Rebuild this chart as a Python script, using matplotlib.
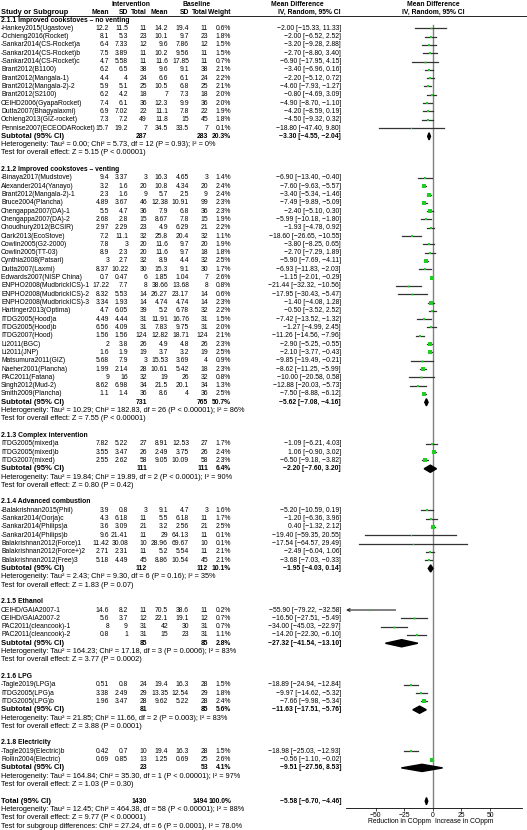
import matplotlib
matplotlib.use('Agg')
import matplotlib.pyplot as plt
from matplotlib.patches import Polygon

plt.rcParams['font.family'] = ['Liberation Sans', 'DejaVu Sans']
FS = 4.9
FS_NOTE = 5.35
MINUS = '\u2212'

# ---- data -------------------------------------------------------------
groups = ['2.1.1 Improved cookstoves \u2013 no venting',
          '2.1.2 Improved cookstoves \u2013 venting',
          '2.1.3 Complex intervention',
          '2.1.4 Advanced combustion',
          '2.1.5 Ethanol',
          '2.1.6 LPG',
          '2.1.8 Electricity']
group_sizes = [13, 27, 3, 7, 4, 3, 2]

studies = [
    '-Hankey2015(Ugastove)', '-Ochieng2016(Rocket)', '-Sankar2014(CS-Rocket)a',
    '-Sankar2014(CS-Rocket)b', '-Sankar2014(CS-Rocket)c', 'Brant2012(B1100)',
    'Brant2012(Mangala-1)', 'Brant2012(Mangala-2)-2', 'Brant2012(S2100)',
    'CEIHD2006(GyapaRocket)', 'Dutta2007(Bhagyalaxmi)', 'Ochieng2013(GIZ-rocket)',
    'Pennise2007(ECEODARocket)',
    '-Binaya2017(Mudstove)', 'Alexander2014(Yanayo)', 'Brant2012(Mangala-2)-1',
    'Bruce2004(Plancha)', 'Chengappa2007(DA)-1', 'Chengappa2007(DA)-2',
    'Choudhury2012(BCSIR)', 'Clark2013(EcoStove)', 'Cowlin2005(G2-2000)',
    'Cowlin2005(TT-03)', 'Cynthia2008(Patsari)', 'Dutta2007(Laxmi)',
    'Edwards2007(NISP China)', 'ENPHO2008(MudbrickICS)-1', 'ENPHO2008(MudbrickICS)-2',
    'ENPHO2008(MudbrickICS)-3', 'Hartinger2013(Optima)', 'ITDG2005(Hood)a',
    'ITDG2005(Hood)b', 'ITDG2007(Hood)', 'Li2011(BGC)', 'Li2011(JNP)',
    'Matsumura2011(GIZ)', 'Naeher2001(Plancha)', 'PAC2011(Fatana)',
    'Singh2012(Mud-2)', 'Smith2009(Plancha)',
    'ITDG2005(mixed)a', 'ITDG2005(mixed)b', 'ITDG2007(mixed)',
    '-Balakrishnan2015(Phil)', '-Sankar2014(Oorja)c', '-Sankar2014(Philips)a',
    '-Sankar2014(Philips)b', 'Balakrishnan2012(Force)1', 'Balakrishnan2012(Force+)2',
    'Balakrishnan2012(Free)3',
    'CEIHD/GAIA2007-1', 'CEIHD/GAIA2007-2', 'PAC2011(cleancook)-1', 'PAC2011(cleancook)-2',
    '-Tagle2019(LPG)a', 'ITDG2005(LPG)a', 'ITDG2005(LPG)b',
    '-Tagle2019(Electric)b', 'Rollin2004(Electric)']

int_mean = [12.2, 8.1, 6.4, 7.5, 4.7, 6.2, 4.4, 5.9, 6.2, 7.4, 6.9, 7.3, 15.7,
            9.4, 3.2, 2.3, 4.89, 5.5, 2.68, 2.97, 7.2, 7.8, 8.9, 3, 8.37, 0.7, 17.22,
            8.32, 3.34, 4.7, 4.49, 6.56, 1.56, 2, 1.6, 5.68, 1.99, 9, 8.62, 1.1,
            7.82, 3.55, 2.55,
            3.9, 4.3, 3.6, 9.6, 11.42, 2.71, 5.18,
            14.6, 5.6, 8, 0.8,
            0.51, 3.38, 1.96,
            0.42, 0.69]
int_sd = [11.5, 5.3, 7.33, 3.89, 5.58, 6.5, 4, 5.1, 4.2, 6.1, 7.02, 7.2, 19.2,
          3.37, 1.6, 1.6, 3.67, 4.7, 2.8, 2.29, 11.1, 3, 2.3, 2.7, 10.22, 0.47, 7.7,
          5.53, 1.93, 6.05, 4.44, 4.09, 1.56, 3.8, 1.9, 7.9, 2.14, 16, 6.98, 1.4,
          5.22, 3.47, 2.62,
          0.8, 6.18, 3.09, 21.41, 30.08, 2.31, 4.49,
          8.2, 3.7, 9, 1,
          0.8, 2.49, 3.47,
          0.7, 0.85]
int_n = [11, 23, 12, 11, 11, 38, 24, 25, 18, 36, 22, 49, 7,
         3, 20, 9, 46, 36, 15, 23, 32, 20, 20, 32, 30, 6, 8, 14, 14, 39, 31, 31,
         124, 26, 19, 3, 28, 32, 34, 36,
         27, 26, 58,
         3, 11, 21, 11, 10, 11, 45,
         11, 12, 31, 31,
         24, 29, 28,
         10, 13]
base_mean = [14.2, 10.1, 9.6, 10.2, 11.6, 9.6, 6.6, 10.5, 7, 12.3, 11.1, 11.8, 34.5,
             16.3, 10.8, 5.7, 12.38, 7.9, 8.67, 4.9, 25.8, 11.6, 11.6, 8.9, 15.3, 1.85,
             38.66, 26.27, 4.74, 5.2, 11.91, 7.83, 12.82, 4.9, 3.7, 15.53, 10.61, 19,
             21.5, 8.6,
             8.91, 2.49, 9.05,
             9.1, 5.5, 3.2, 29, 28.96, 5.2, 8.86,
             70.5, 22.1, 42, 15,
             19.4, 13.35, 9.62,
             19.4, 1.25]
base_sd = [19.4, 9.7, 7.86, 9.56, 17.85, 9.1, 6.1, 6.8, 7.3, 9.9, 7.8, 15, 33.5,
           4.65, 4.34, 2.5, 10.91, 6.8, 7.8, 6.29, 20.4, 9.7, 9.7, 4.4, 9.1, 1.04,
           13.68, 23.17, 4.74, 6.78, 16.76, 9.75, 18.71, 4.8, 3.2, 3.69, 5.42, 26,
           20.1, 4,
           12.53, 3.75, 10.09,
           4.7, 6.18, 2.56, 64.13, 69.67, 5.54, 10.54,
           38.6, 19.1, 30, 23,
           16.3, 12.54, 5.22,
           16.3, 0.69]
base_n = [11, 23, 12, 11, 11, 38, 24, 25, 18, 36, 22, 45, 7,
          3, 20, 9, 99, 36, 15, 21, 32, 20, 18, 32, 30, 7, 8, 14, 14, 32, 31, 31,
          124, 26, 19, 4, 18, 32, 34, 36,
          27, 26, 58,
          3, 11, 21, 11, 10, 11, 45,
          11, 12, 31, 31,
          28, 29, 28,
          28, 25]
weight = [0.6, 1.8, 1.5, 1.5, 0.7, 2.1, 2.2, 2.1, 2.0, 2.0, 1.9, 1.8, 0.1,
          1.4, 2.4, 2.4, 2.3, 2.3, 1.9, 2.2, 1.1, 1.9, 1.8, 2.5, 1.7, 2.6, 0.8, 0.6,
          2.3, 2.2, 1.5, 2.0, 2.1, 2.3, 2.5, 0.9, 2.3, 0.8, 1.3, 2.5,
          1.7, 2.4, 2.3,
          1.6, 1.7, 2.5, 0.1, 0.1, 2.1, 2.1,
          0.2, 0.7, 0.7, 1.1,
          1.5, 1.8, 2.4,
          1.5, 2.6]
md = [-2.00, -2.00, -3.20, -2.70, -6.90, -3.40, -2.20, -4.60, -0.80, -4.90, -4.20, -4.50, -18.80,
      -6.90, -7.60, -3.40, -7.49, -2.40, -5.99, -1.93, -18.60, -3.80, -2.70, -5.90, -6.93,
      -1.15, -21.44, -17.95, -1.40, -0.50, -7.42, -1.27, -11.26, -2.90, -2.10, -9.85,
      -8.62, -10.00, -12.88, -7.50,
      -1.09, 1.06, -6.50,
      -5.20, -1.20, 0.40, -19.40, -17.54, -2.49, -3.68,
      -55.90, -16.50, -34.00, -14.20,
      -18.89, -9.97, -7.66,
      -18.98, -0.56]
md_lo = [-15.33, -6.52, -9.28, -8.80, -17.95, -6.96, -5.12, -7.93, -4.69, -8.70, -8.59, -9.32, -47.40,
         -13.40, -9.63, -5.34, -9.89, -5.10, -10.18, -4.78, -26.65, -8.25, -7.29, -7.69, -11.83,
         -2.01, -32.32, -30.43, -4.08, -3.52, -13.52, -4.99, -14.56, -5.25, -3.77, -19.49,
         -11.25, -20.58, -20.03, -8.88,
         -6.21, -0.90, -9.18,
         -10.59, -6.36, -1.32, -59.35, -64.57, -6.04, -7.03,
         -79.22, -27.51, -45.03, -22.30,
         -24.94, -14.62, -9.98,
         -25.03, -1.10]
md_hi = [11.33, 2.52, 2.88, 3.40, 4.15, 0.16, 0.72, -1.27, 3.09, -1.10, 0.19, 0.32, 9.80,
         -0.40, -5.57, -1.46, -5.09, 0.30, -1.80, 0.92, -10.55, 0.65, 1.89, -4.11, -2.03,
         -0.29, -10.56, -5.47, 1.28, 2.52, -1.32, 2.45, -7.96, -0.55, -0.43, -0.21,
         -5.99, 0.58, -5.73, -6.12,
         4.03, 3.02, -3.82,
         0.19, 3.96, 2.12, 20.55, 29.49, 1.06, -0.33,
         -32.58, -5.49, -22.97, -6.10,
         -12.84, -5.32, -5.34,
         -12.93, -0.02]

sub_int_n = [287, 731, 111, 112, 85, 81, 23]
sub_base_n = [283, 765, 111, 112, 85, 85, 53]
sub_weight = [20.3, 50.7, 6.4, 10.1, 2.8, 5.6, 4.1]
sub_md = [-3.30, -5.62, -2.20, -1.95, -27.32, -11.63, -9.51]
sub_lo = [-4.55, -7.08, -7.60, -4.03, -41.54, -17.51, -27.56]
sub_hi = [-2.04, -4.16, 3.20, 0.14, -13.10, -5.76, 8.53]
sub_het = ['Tau\u00b2 = 0.00; Chi\u00b2 = 5.73, df = 12 (P = 0.93); I\u00b2 = 0%',
           'Tau\u00b2 = 10.29; Chi\u00b2 = 182.83, df = 26 (P < 0.00001); I\u00b2 = 86%',
           'Tau\u00b2 = 19.84; Chi\u00b2 = 19.89, df = 2 (P < 0.0001); I\u00b2 = 90%',
           'Tau\u00b2 = 2.43; Chi\u00b2 = 9.30, df = 6 (P = 0.16); I\u00b2 = 35%',
           'Tau\u00b2 = 164.23; Chi\u00b2 = 17.18, df = 3 (P = 0.0006); I\u00b2 = 83%',
           'Tau\u00b2 = 21.85; Chi\u00b2 = 11.66, df = 2 (P = 0.003); I\u00b2 = 83%',
           'Tau\u00b2 = 164.84; Chi\u00b2 = 35.30, df = 1 (P < 0.00001); I\u00b2 = 97%']
sub_z = ['Z = 5.15 (P < 0.00001)', 'Z = 7.55 (P < 0.00001)', 'Z = 0.80 (P = 0.42)',
         'Z = 1.83 (P = 0.07)', 'Z = 3.77 (P = 0.0002)', 'Z = 3.88 (P = 0.0001)',
         'Z = 1.03 (P = 0.30)']

total_int_n = 1430
total_base_n = 1494
total_md = [-5.58, -6.70, -4.46]
total_het = 'Tau\u00b2 = 12.45; Chi\u00b2 = 464.38, df = 58 (P < 0.00001); I\u00b2 = 88%'
total_z = 'Z = 9.77 (P < 0.00001)'
subgroup_test = 'Chi\u00b2 = 27.24, df = 6 (P = 0.0001), I\u00b2 = 78.0%'

xticks = [-50, -25, 0, 25, 50]
xlim = (-76, 78)
favours = ['Reduction in COppm', 'Increase in COppm']

# ---- layout (pixel units) ---------------------------------------------
W, H = 527, 830
Y0, PITCH = 20, 8.31
AXIS_Y = 808
col_x = [109, 128, 147, 168, 189, 208, 231]
md_x = 341


def fmt(v):
    return ('%g' % v).replace('-', MINUS)


def ci_text(m, lo, hi):
    return ('%.2f [%.2f, %.2f]' % (m, lo, hi)).replace('-', MINUS)


def row_y(r):
    return Y0 + (r - 2) * PITCH


fig = plt.figure(figsize=(W / 100, H / 100), dpi=100)
ax = fig.add_axes([0, 0, 1, 1])
ax.set_xlim(0, W)
ax.set_ylim(H, 0)
ax.axis('off')

fax = fig.add_axes([346 / W, (H - AXIS_Y) / H, 176 / W, AXIS_Y / H])
fax.set_xlim(*xlim)
fax.set_ylim(AXIS_Y, 0)
fax.patch.set_alpha(0)
for s in ['top', 'right', 'left']:
    fax.spines[s].set_visible(False)
fax.spines['bottom'].set_linewidth(0.6)
fax.set_yticks([])
fax.set_xticks(xticks)
fax.set_xticklabels([fmt(t) for t in xticks])
fax.tick_params(axis='x', labelsize=FS, length=2, width=0.5, pad=1)


def txt(x, y, s, ha='right', bold=False, size=FS):
    ax.text(x, y, s, ha=ha, va='center', fontsize=size,
            fontweight='bold' if bold else 'normal')


# header
hy1, hy2 = 4, 12
txt(131, hy1, 'Intervention', ha='center', bold=True)
txt(197, hy1, 'Baseline', ha='center', bold=True)
txt(297, hy1, 'Mean Difference', ha='center', bold=True)
txt(433, hy1, 'Mean Difference', ha='center', bold=True)
txt(1, hy2, 'Study or Subgroup', ha='left', bold=True, size=5.3)
for x, lab in zip(col_x, ['Mean', 'SD', 'Total', 'Mean', 'SD', 'Total', 'Weight']):
    txt(x, hy2, lab, bold=True)
txt(md_x, hy2, 'IV, Random, 95% CI', bold=True)
txt(433, hy2, 'IV, Random, 95% CI', ha='center', bold=True)
ax.plot([0, W], [16.5, 16.5], color='black', lw=0.6)

fax.plot([0, 0], [25, AXIS_Y], color='#808080', lw=1.0, zorder=1)

r = 2
k = 0
for g, title in enumerate(groups):
    txt(1, row_y(r), title, ha='left', bold=True)
    r += 1
    for i in range(group_sizes[g]):
        y = row_y(r)
        txt(1, y, studies[k], ha='left')
        vals = [fmt(int_mean[k]), fmt(int_sd[k]), str(int_n[k]),
                fmt(base_mean[k]), fmt(base_sd[k]), str(base_n[k]),
                '%.1f%%' % weight[k]]
        for x, v in zip(col_x, vals):
            txt(x, y, v)
        txt(md_x, y, ci_text(md[k], md_lo[k], md_hi[k]))
        if md_lo[k] < xlim[0]:
            # CI runs off the scale: draw it as an arrow to the edge
            fax.annotate('', xy=(xlim[0], y), xytext=(md_hi[k], y),
                         arrowprops=dict(arrowstyle='->', lw=0.8, color='#222222',
                                         mutation_scale=5, shrinkA=0, shrinkB=0))
        else:
            fax.plot([md_lo[k], md_hi[k]], [y, y], color='#333333', lw=0.9, zorder=2)
        fax.plot(md[k], y, marker='s', ms=0.9 + weight[k] * 0.55, color='#22cc22',
                 mec='#22cc22', mew=0, zorder=3)
        r += 1
        k += 1
    y = row_y(r)
    txt(1, y, 'Subtotal (95% CI)', ha='left', bold=True, size=5.5)
    txt(col_x[2], y, str(sub_int_n[g]), bold=True)
    txt(col_x[5], y, str(sub_base_n[g]), bold=True)
    txt(col_x[6], y, '%.1f%%' % sub_weight[g], bold=True)
    txt(md_x, y, ci_text(sub_md[g], sub_lo[g], sub_hi[g]), bold=True)
    fax.add_patch(Polygon([(sub_lo[g], y), (sub_md[g], y - 3.6), (sub_hi[g], y),
                           (sub_md[g], y + 3.6)], closed=True, color='black', zorder=4))
    r += 1
    txt(1, row_y(r), 'Heterogeneity: ' + sub_het[g], ha='left', size=FS_NOTE)
    r += 1
    txt(1, row_y(r), 'Test for overall effect: ' + sub_z[g], ha='left', size=FS_NOTE)
    r += 2

y = row_y(r)
txt(1, y, 'Total (95% CI)', ha='left', bold=True, size=5.5)
txt(col_x[2], y, str(total_int_n), bold=True)
txt(col_x[5], y, str(total_base_n), bold=True)
txt(col_x[6], y, '100.0%', bold=True)
txt(md_x, y, ci_text(*total_md), bold=True)
fax.add_patch(Polygon([(total_md[1], y), (total_md[0], y - 3.6), (total_md[2], y),
                       (total_md[0], y + 3.6)], closed=True, color='black', zorder=4))
txt(1, row_y(r + 1), 'Heterogeneity: ' + total_het, ha='left', size=FS_NOTE)
txt(1, row_y(r + 2), 'Test for overall effect: ' + total_z, ha='left', size=FS_NOTE)
txt(1, row_y(r + 3), 'Test for subgroup differences: ' + subgroup_test, ha='left', size=FS_NOTE)

fax.text(-1.5, 821, favours[0], ha='right', va='center', fontsize=FS)
fax.text(1.5, 821, favours[1], ha='left', va='center', fontsize=FS)

fig.savefig('out.png', dpi=100)
